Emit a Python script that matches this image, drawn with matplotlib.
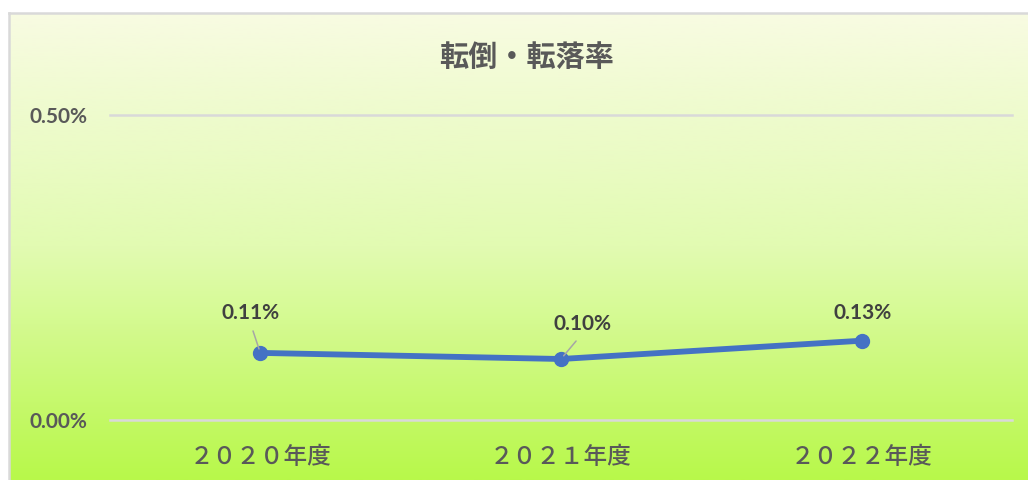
import numpy as np
import matplotlib
matplotlib.use("Agg")
import matplotlib.pyplot as plt
from matplotlib.colors import LinearSegmentedColormap
from matplotlib.lines import Line2D

# ---- data ----
title = "転倒・転落率"
categories = ["２０２０年度", "２０２１年度", "２０２２年度"]
values = [0.0011, 0.0010, 0.0013]
y_ticks = [0.0, 0.005]

W, H = 1028, 480
fig = plt.figure(figsize=(W / 100, H / 100), dpi=100)
fig.patch.set_facecolor("white")

def fx(px):
    return px / W

def fy(py):
    return 1 - py / H

# gradient background of chart area
left_px, top_px = 9, 13
bg = fig.add_axes([fx(left_px), 0, 1 - fx(left_px), fy(top_px)])
cmap = LinearSegmentedColormap.from_list(
    "g", [(0.0, (248/255, 251/255, 226/255)),
          (0.5, (226/255, 251/255, 178/255)),
          (1.0, (184/255, 248/255, 74/255))])
grad = np.linspace(0, 1, 256).reshape(-1, 1)
bg.imshow(grad, aspect="auto", cmap=cmap, extent=[0, 1, 0, 1], origin="upper")
bg.set_axis_off()

# chart border (top and left)
border = "#D9D9D9"
fig.add_artist(Line2D([fx(left_px), 1], [fy(top_px), fy(top_px)], color=border, lw=1.8))
fig.add_artist(Line2D([fx(left_px), fx(left_px)], [0, fy(top_px)], color=border, lw=1.8))

# plot axes
ax_l, ax_r = 110, 1012
ax_t, ax_b = 115, 420
ax = fig.add_axes([fx(ax_l), fy(ax_b), fx(ax_r - ax_l), (ax_b - ax_t) / H])
ax.patch.set_alpha(0)
for s in ax.spines.values():
    s.set_visible(False)
ax.set_xlim(-0.5, len(categories) - 0.5)
ax.set_ylim(y_ticks[0], y_ticks[-1])

for yv in y_ticks:
    ax.axhline(yv, color="#D9D9D9", lw=1.8, zorder=1, clip_on=False)

x = np.arange(len(categories))
ax.plot(x, values, color="#4472C4", lw=4.2, marker="o", markersize=10,
        solid_capstyle="round", zorder=3, clip_on=False)

ax.set_yticks(y_ticks, [f"{v:.2%}" for v in y_ticks])
ax.set_xticks(x, categories)
ax.tick_params(axis="y", length=0, pad=16, labelsize=15, labelcolor="#595959")
ax.tick_params(axis="x", length=0, pad=19, labelsize=17, labelcolor="#595959")
for lab in ax.get_yticklabels():
    lab.set_fontfamily(["Lato", "DejaVu Sans"])
    lab.set_fontweight("bold")
for lab in ax.get_xticklabels():
    lab.set_fontfamily(["Noto Sans CJK JP", "DejaVu Sans"])
    lab.set_fontweight("medium")

# data labels (pixel offsets from point)
offsets = [(-10, 40), (21, 35), (1, 28)]
leaders = [True, True, False]
for xi, v, (dx, dy), ld in zip(x, values, offsets, leaders):
    kw = {}
    if ld:
        kw["arrowprops"] = dict(arrowstyle="-", color="#A6A6A6", lw=1.1,
                                relpos=(0.5, 0.0), shrinkA=4, shrinkB=3)
    ax.annotate(f"{v:.2%}", (xi, v), xytext=(dx, dy), textcoords="offset pixels",
                ha="center", va="center", fontsize=15, fontweight="bold",
                color="#404040", family=["Lato", "DejaVu Sans"], zorder=4, **kw)

fig.text(fx(527), fy(57), title, ha="center", va="center", fontsize=21,
         fontweight="bold", color="#595959",
         family=["Noto Sans CJK JP", "DejaVu Sans"])

fig.savefig("out.png", dpi=100)
